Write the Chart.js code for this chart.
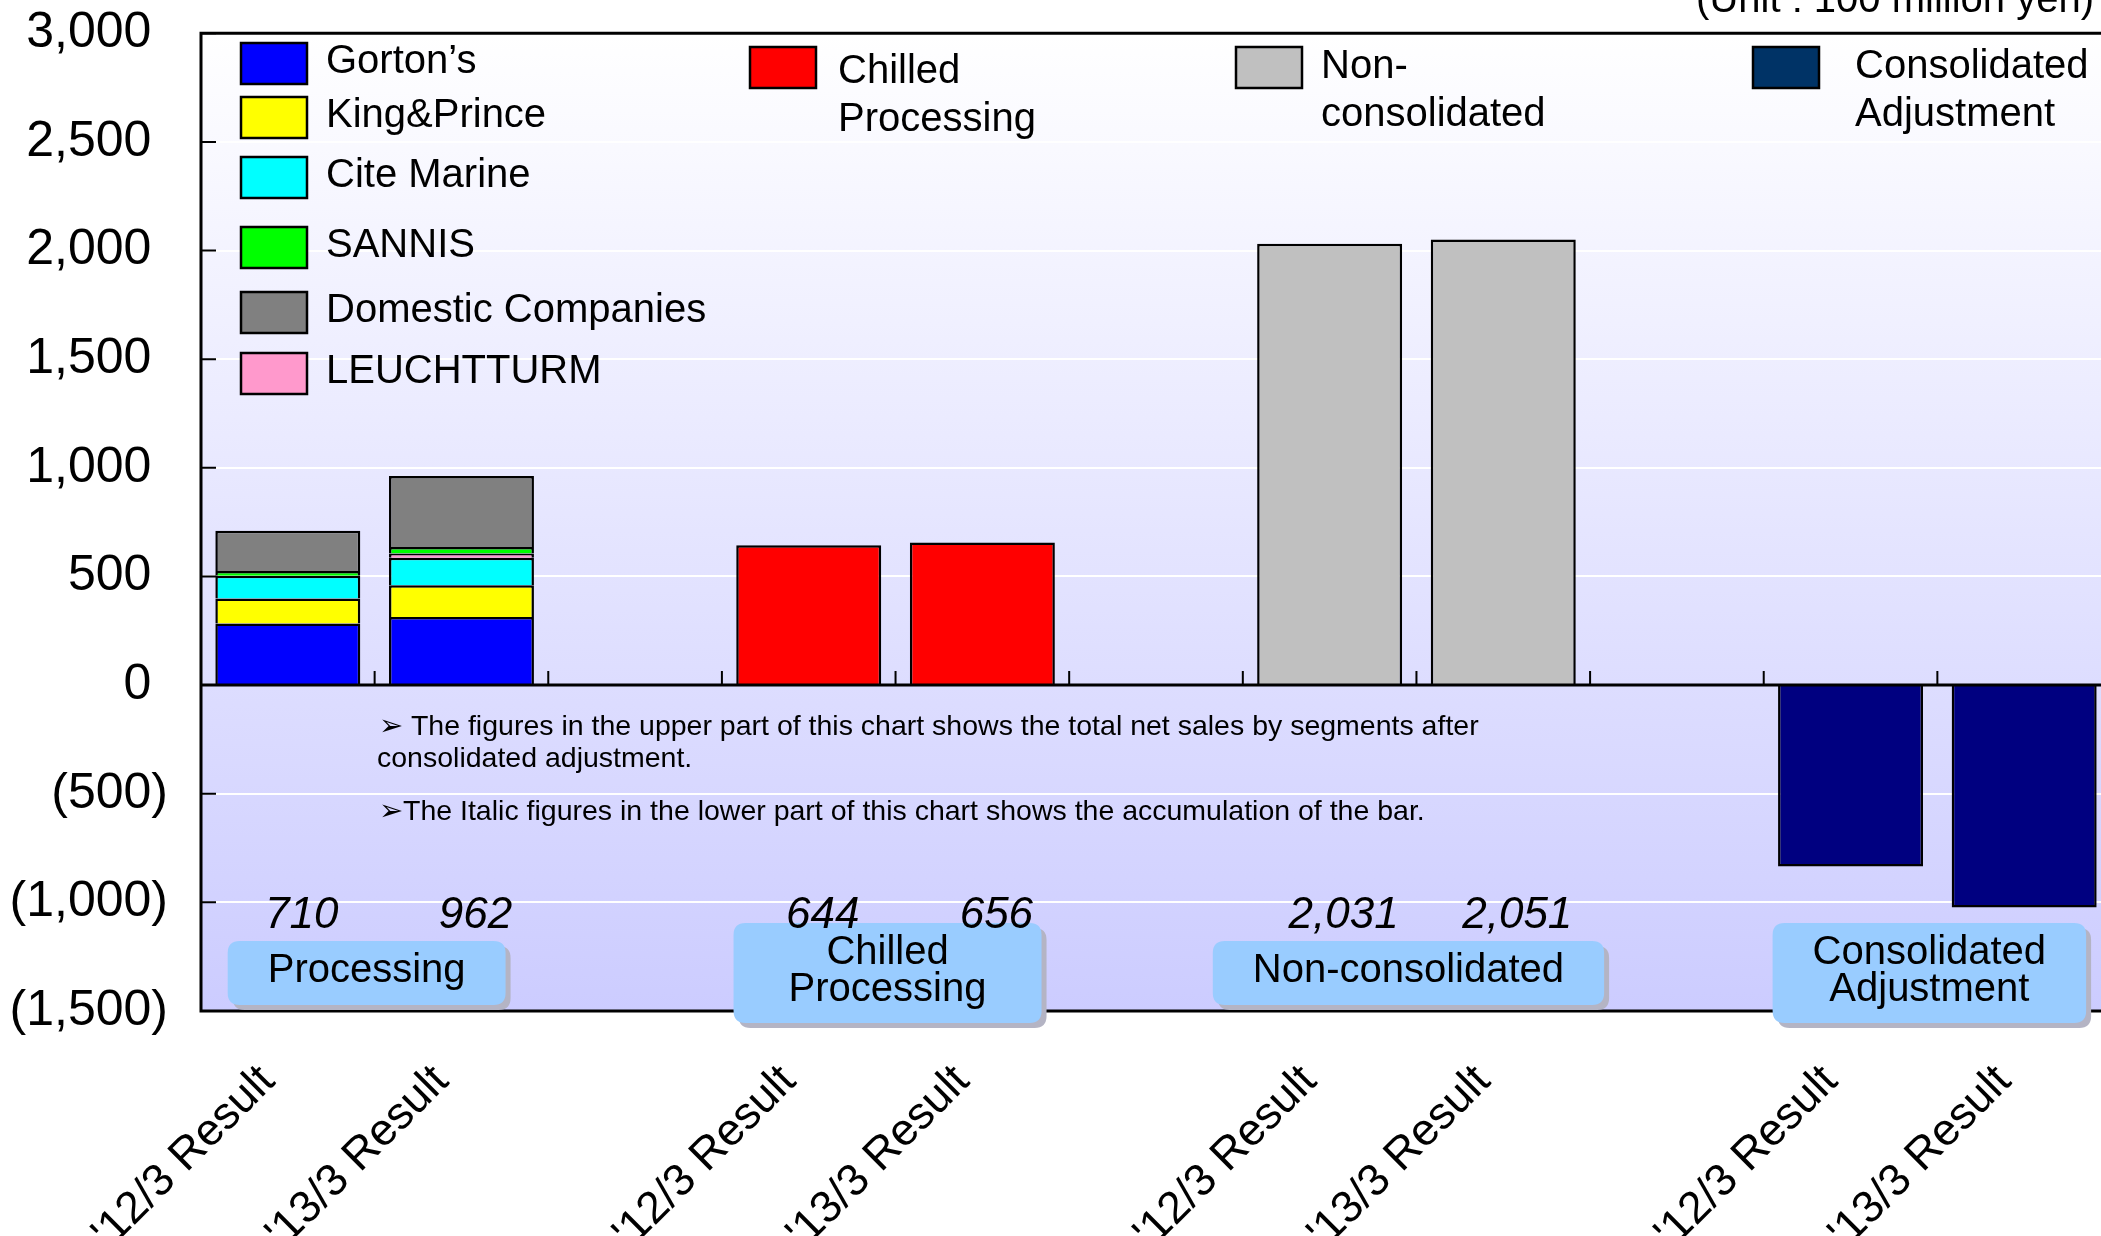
<!DOCTYPE html>
<html>
<head>
<meta charset="utf-8">
<script src="https://cdn.jsdelivr.net/npm/chart.js@4.4.0/dist/chart.umd.min.js"></script>
<style>
  html, body { margin: 0; padding: 0; background: #fff; overflow: hidden; }
  #wrap { width: 2111px; height: 1236px; }
</style>
</head>
<body>
<div id="wrap"><canvas id="salesChart" width="2111" height="1236"></canvas></div>
<script>
var FONT = '"Liberation Sans", Arial, sans-serif';

var periods = ["'12/3 Result", "'13/3 Result"];
var segments = ["Processing", "Chilled\nProcessing", "Non-consolidated", "Consolidated\nAdjustment"];

// processing segment, by company (100 million yen)
var gortons = [283, 313];
var kingPrince = [116, 147];
var citeMarine = [104, 126];
var leuchtturm = [0, 20];
var sannis = [22, 30];
var domestic = [185, 326];

var chilled = [644, 656];
var nonConsolidated = [2031, 2051];
var adjustment = [-835, -1024];

var yMin = -1500, yMax = 3000, yStep = 500;

// one slot per period, an empty slot between segments
var labels = [];
var slotOf = [];
segments.forEach(function(seg, g) {
    slotOf.push([]);
    periods.forEach(function(p) {
        slotOf[g].push(labels.length);
        labels.push(p);
    });
    if (g < segments.length - 1) labels.push('');
});

function spread(g, values) {
    var arr = labels.map(function() { return null; });
    values.forEach(function(v, i) { arr[slotOf[g][i]] = v; });
    return arr;
}

var processingTotal = periods.map(function(_, i) {
    return gortons[i] + kingPrince[i] + citeMarine[i] + leuchtturm[i] + sannis[i] + domestic[i];
});
var groupTotals = [processingTotal, chilled, nonConsolidated, null];

// accounting style: negatives in brackets, positives padded by a bracket's width
function fmt(v) {
    var s = Math.abs(v).toLocaleString('en-US');
    return v < 0 ? '(' + s + ')' : s + '\u2004';
}

function ds(label, g, values, color) {
    return { label: label, data: spread(g, values), backgroundColor: color, stack: 'all' };
}

var datasets = [
    ds('Gorton\u2019s', 0, gortons, '#0000ff'),
    ds('King&Prince', 0, kingPrince, '#ffff00'),
    ds('Cite Marine', 0, citeMarine, '#00ffff'),
    ds('LEUCHTTURM', 0, leuchtturm, '#ff99cc'),
    ds('SANNIS', 0, sannis, '#00ff00'),
    ds('Domestic Companies', 0, domestic, '#808080'),
    ds('Chilled Processing', 1, chilled, '#ff0000'),
    ds('Non-consolidated', 2, nonConsolidated, '#c0c0c0'),
    ds('Consolidated Adjustment', 3, adjustment, '#000080')
];

// legend layout
var leftLegend = ['Gorton\u2019s', 'King&Prince', 'Cite Marine', 'SANNIS', 'Domestic Companies', 'LEUCHTTURM'];
var leftLegendTops = [43, 97, 157, 227, 292, 353];
var rightLegend = [
    { lines: ['Chilled', 'Processing'], x: 750, textX: 838, baseY: 83, color: '#ff0000' },
    { lines: ['Non-', 'consolidated'], x: 1236, textX: 1321, baseY: 78, color: '#c0c0c0' },
    { lines: ['Consolidated', 'Adjustment'], x: 1753, textX: 1855, baseY: 78, color: '#003366' }
];

function colorOf(name) {
    for (var i = 0; i < datasets.length; i++) {
        if (datasets[i].label === name) return datasets[i].backgroundColor;
    }
    return '#000';
}

function roundRect(ctx, x, y, w, h, r) {
    ctx.beginPath();
    ctx.moveTo(x + r, y);
    ctx.lineTo(x + w - r, y);
    ctx.quadraticCurveTo(x + w, y, x + w, y + r);
    ctx.lineTo(x + w, y + h - r);
    ctx.quadraticCurveTo(x + w, y + h, x + w - r, y + h);
    ctx.lineTo(x + r, y + h);
    ctx.quadraticCurveTo(x, y + h, x, y + h - r);
    ctx.lineTo(x, y + r);
    ctx.quadraticCurveTo(x, y, x + r, y);
    ctx.closePath();
}

var plotBackground = {
    id: 'plotBackground',
    beforeDraw: function(chart) {
        var a = chart.chartArea, ctx = chart.ctx;
        var g = ctx.createLinearGradient(0, a.top, 0, a.bottom);
        g.addColorStop(0, '#ffffff');
        g.addColorStop(1, '#ccccff');
        ctx.save();
        ctx.fillStyle = g;
        ctx.fillRect(a.left, a.top, a.right - a.left, a.bottom - a.top);
        ctx.restore();
    }
};

var frameAndTicks = {
    id: 'frameAndTicks',
    afterDatasetsDraw: function(chart) {
        var a = chart.chartArea, ctx = chart.ctx;
        var x = chart.scales.x, y = chart.scales.y;
        var y0 = y.getPixelForValue(0);
        ctx.save();
        ctx.strokeStyle = '#000';
        ctx.lineWidth = 3;
        ctx.beginPath();
        ctx.moveTo(a.left, y0); ctx.lineTo(a.right, y0);
        ctx.moveTo(a.right, a.top); ctx.lineTo(a.left, a.top);
        ctx.lineTo(a.left, a.bottom); ctx.lineTo(a.right, a.bottom);
        ctx.stroke();
        // inward ticks
        ctx.lineWidth = 2;
        ctx.beginPath();
        for (var v = yMin; v <= yMax; v += yStep) {
            var py = y.getPixelForValue(v);
            ctx.moveTo(a.left, py); ctx.lineTo(a.left + 15, py);
        }
        for (var i = 0; i < labels.length - 1; i++) {
            var px = (x.getPixelForValue(i) + x.getPixelForValue(i + 1)) / 2;
            ctx.moveTo(px, y0); ctx.lineTo(px, y0 - 14);
        }
        ctx.stroke();
        ctx.restore();
    }
};

var annotations = {
    id: 'annotations',
    afterDraw: function(chart) {
        var ctx = chart.ctx, x = chart.scales.x;
        ctx.save();
        ctx.fillStyle = '#000';
        ctx.textBaseline = 'alphabetic';

        // unit
        ctx.font = '40px ' + FONT;
        ctx.textAlign = 'right';
        ctx.fillText('(Unit : 100 million yen)', 2094, 12);

        // legend
        ctx.textAlign = 'left';
        ctx.lineWidth = 2.5;
        ctx.strokeStyle = '#000';
        leftLegend.forEach(function(name, i) {
            var top = leftLegendTops[i];
            ctx.fillStyle = colorOf(name);
            ctx.fillRect(241, top, 66, 41);
            ctx.strokeRect(241, top, 66, 41);
            ctx.fillStyle = '#000';
            ctx.fillText(name, 326, top + 30);
        });
        rightLegend.forEach(function(item) {
            ctx.fillStyle = item.color;
            ctx.fillRect(item.x, 47, 66, 41);
            ctx.strokeRect(item.x, 47, 66, 41);
            ctx.fillStyle = '#000';
            item.lines.forEach(function(line, k) {
                ctx.fillText(line, item.textX, item.baseY + k * 48);
            });
        });

        // notes
        ctx.font = '28.5px ' + FONT;
        ctx.fillText('\u27A2 The figures in the upper part of this chart shows the total net sales by segments after', 379, 735);
        ctx.fillText('consolidated adjustment.', 377, 767);
        ctx.fillText('\u27A2The Italic figures in the lower part of this chart shows the accumulation of the bar.', 379, 820);

        // segment captions
        ctx.font = '40px ' + FONT;
        ctx.textAlign = 'center';
        segments.forEach(function(seg, g) {
            var lines = seg.split('\n');
            var cx = (x.getPixelForValue(slotOf[g][0]) + x.getPixelForValue(slotOf[g][periods.length - 1])) / 2 - 8;
            var cy = 973;
            var w = 0;
            lines.forEach(function(l) { w = Math.max(w, ctx.measureText(l).width); });
            w += 80;
            var h = 64;
            if (lines.length > 1) {
                h = 100;
                w = Math.max(w, 308);
            }
            ctx.fillStyle = '#b4b4c4';
            roundRect(ctx, cx - w / 2 + 5, cy - h / 2 + 5, w, h, 12);
            ctx.fill();
            ctx.fillStyle = '#99ccff';
            roundRect(ctx, cx - w / 2, cy - h / 2, w, h, 12);
            ctx.fill();
            ctx.fillStyle = '#000';
            ctx.textBaseline = 'middle';
            lines.forEach(function(l, k) {
                ctx.fillText(l, cx, cy - 2 + (k - (lines.length - 1) / 2) * 37);
            });
            ctx.textBaseline = 'alphabetic';
        });

        // accumulated figures, drawn over the captions
        ctx.font = 'italic 44px ' + FONT;
        groupTotals.forEach(function(totals, g) {
            if (!totals) return;
            totals.forEach(function(v, i) {
                ctx.fillText(v.toLocaleString('en-US'), x.getPixelForValue(slotOf[g][i]) + 14, 928);
            });
        });
        ctx.restore();
    }
};

Chart.defaults.font.family = FONT;

new Chart(document.getElementById('salesChart'), {
    type: 'bar',
    data: { labels: labels, datasets: datasets },
    options: {
        responsive: false,
        animation: false,
        layout: { padding: { top: 0, right: 0, bottom: 0, left: 0 } },
        plugins: { legend: { display: false }, tooltip: { enabled: false } },
        datasets: {
            bar: { barPercentage: 0.835, categoryPercentage: 1, borderWidth: 2.5, borderColor: '#000', borderSkipped: 'start' }
        },
        scales: {
            x: {
                stacked: true,
                grid: { display: false, drawTicks: false },
                border: { display: false },
                ticks: { autoSkip: false, minRotation: 45, maxRotation: 45, padding: 44, labelOffset: -20, color: '#000', font: { size: 45 } },
                afterFit: function(s) { s.height = 225; }
            },
            y: {
                stacked: true,
                min: yMin,
                max: yMax,
                // tiny line height keeps the top label from pushing the plot down
                ticks: { stepSize: yStep, padding: 33, color: '#000', font: { size: 50, lineHeight: 0.01 }, callback: function(v) { return fmt(v); } },
                grid: {
                    drawTicks: false,
                    lineWidth: 2,
                    color: function(c) { return c.tick && c.tick.value === 0 ? 'rgba(0,0,0,0)' : '#ffffff'; }
                },
                border: { display: false },
                afterFit: function(s) { s.width = 201; }
            }
        }
    },
    plugins: [plotBackground, frameAndTicks, annotations]
});
</script>
</body>
</html>
